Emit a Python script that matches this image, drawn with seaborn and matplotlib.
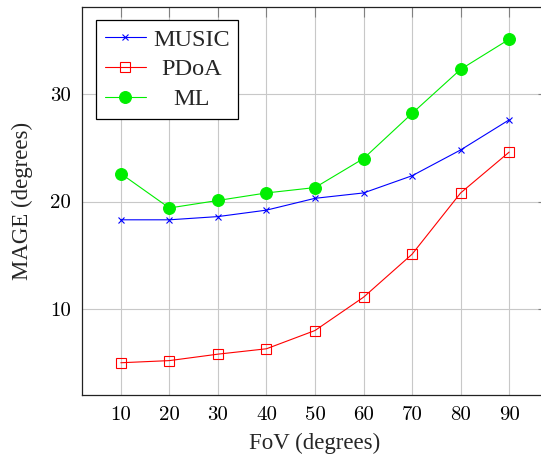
import matplotlib
matplotlib.use("Agg")
import matplotlib.pyplot as plt
import seaborn as sns
import pandas as pd

# Mean angular error per field of view for the three estimators
fov = [10, 20, 30, 40, 50, 60, 70, 80, 90]
music = [18.3, 18.3, 18.6, 19.2, 20.3, 20.8, 22.4, 24.8, 27.6]
pdoa = [5.0, 5.2, 5.8, 6.3, 8.0, 11.1, 15.1, 20.8, 24.6]
ml = [22.6, 19.4, 20.1, 20.8, 21.3, 24.0, 28.2, 32.3, 35.1]

xticks = [10, 20, 30, 40, 50, 60, 70, 80, 90]
yticks = [10, 20, 30]

df = pd.DataFrame({"FoV": fov, "MUSIC": music, "PDoA": pdoa, "ML": ml})

sns.set_style("white")
plt.rcParams["font.family"] = ["Liberation Serif", "DejaVu Serif"]

DPI = 100
fig = plt.figure(figsize=(5.41, 4.57), dpi=DPI)
ax = fig.add_axes([82 / 541, 1 - 395 / 457, (548 - 82) / 541, (395 - 7) / 457])

sns.lineplot(data=df, x="FoV", y="MUSIC", ax=ax, color="blue", linewidth=0.8,
             marker="x", markersize=5, markeredgecolor="blue",
             markeredgewidth=0.8, label="MUSIC")
sns.lineplot(data=df, x="FoV", y="PDoA", ax=ax, color="red", linewidth=0.8,
             marker="s", markersize=7.2, markerfacecolor="none",
             markeredgecolor="red", markeredgewidth=0.8, label="PDoA")
sns.lineplot(data=df, x="FoV", y="ML", ax=ax, color="#00ee00", linewidth=0.8,
             marker="o", markersize=8.5, markerfacecolor="#00ee00",
             markeredgecolor="#00ee00", markeredgewidth=0.8, label="ML")

ax.set_xlim(2, 98)
ax.set_ylim(2.0, 38.1)
ax.set_xticks(xticks)
ax.set_yticks(yticks)
ax.set_xticklabels([str(v) for v in xticks], family="cmr10", fontsize=15)
ax.set_yticklabels([str(v) for v in yticks], family="cmr10", fontsize=15)

ax.grid(True, color="#c8c8c8", linewidth=0.8)
ax.set_axisbelow(True)
ax.tick_params(axis="both", which="major", direction="in", length=7.5,
               width=0.8, color="#808080", top=True, right=True,
               labelcolor="black", pad=8)
for s in ax.spines.values():
    s.set_color("#222222")
    s.set_linewidth(0.9)

ax.set_xlabel("FoV (degrees)", fontsize=16.5, labelpad=6)
ax.set_ylabel("MAGE (degrees)", fontsize=16.5, labelpad=12)

leg = ax.legend(loc="upper left",
                bbox_to_anchor=((96 - 82) / 466, 1 - (20 - 7) / 388),
                borderaxespad=0, fontsize=17.5, frameon=True, fancybox=False,
                edgecolor="black", framealpha=1, handlelength=1.7,
                handletextpad=0.3, labelspacing=0.32, borderpad=0.35)
leg.get_frame().set_linewidth(0.9)

# Centre each legend entry within the label column
fig.canvas.draw()
renderer = fig.canvas.get_renderer()
texts = leg.get_texts()
widths = [t.get_window_extent(renderer).width for t in texts]
wmax = max(widths)
for t, w in zip(texts, widths):
    t.set_position(((wmax - w) / 2, 0))

fig.savefig("out.png", dpi=DPI)
